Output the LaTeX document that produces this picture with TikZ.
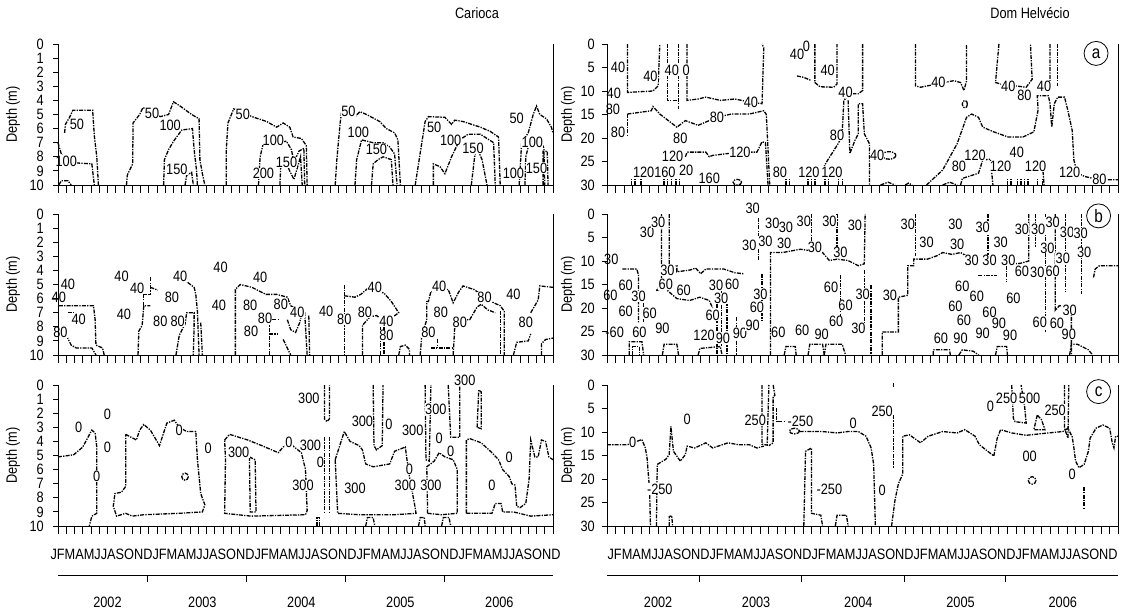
\documentclass[tikz,border=0pt]{standalone}
\usepackage{fontspec}
\setmainfont[FakeStretch=0.85]{Liberation Sans}
\usetikzlibrary{positioning}

\newcommand\labfont{\fontsize{15}{17}\selectfont}
\newcommand\monthrow{JFMAMJJASOND}

\tikzset{
  axis/.style={line width=0.9pt},
  contour/.style={line width=1.3pt,dash pattern=on 4pt off 1.2pt on 1.3pt off 1.2pt},
  clab/.style={font=\labfont,inner sep=0.3pt,fill=white},
  tlab/.style={font=\labfont,anchor=east,inner sep=0pt},
  title/.style={font=\labfont},
  panellab/.style={draw,circle,line width=0.8pt,minimum size=24pt,inner sep=0pt,font=\fontsize{18}{18}\selectfont},
}

% depth axis, bottom month ticks and right spine
% #1 max depth, #2 step, #3 offset of "Depth (m)", #4 offset of the numbers
\newcommand\depthaxes[4]{%
  \draw[axis] (0,0) -- (0,#1) -- (60,#1) -- (60,0);
  \foreach \d in {0,#2,...,#1}{
    \draw[axis] (0,\d) -- ++(-5pt,0);
    \node[tlab] at ([xshift=-#4]0,\d) {\d};
  }
  \foreach \m in {0,...,60} \draw[axis] (\m,#1) -- ++(0,-8pt);
  \node[rotate=90,font=\labfont] at ([xshift=-#3]0,#1/2) {Depth (m)};
}

% months and years under the lowest panel
\newcommand\timeaxis[1]{%
  \node[font=\labfont,inner sep=0pt,yshift=-28pt] at (30,#1) {\monthrow\monthrow\monthrow\monthrow\monthrow};
  \draw[axis] ([yshift=-49pt]0,#1) -- ([yshift=-49pt]60,#1);
  \foreach \t in {10.8,22.8,34.9,46.8}
    \draw[axis] ([yshift=-49pt]\t,#1) -- ++(0,-7pt);
  \foreach \yr/\c in {2002/6,2003/17.5,2004/29.5,2005/41.5,2006/53.5}
    \node[font=\labfont] at ([yshift=-76pt]\c,#1) {\yr};
}

\begin{document}
\begin{tikzpicture}[x=1pt,y=-1pt]
\useasboundingbox (0,0) rectangle (1128,614);

\node[title] (carioca) at (477,13) {Carioca};
\node[title] (domhelvecio) at (1030,13) {Dom Helvécio};

%%%%%%%%%%%%%%%% Carioca (a)
\begin{scope}[shift={(58,44)},x=8.25pt,y=-14.1pt]
  \draw[contour] (0.8,6.3) -- (0.9,5.7) -- (1.4,5.2) -- (1.8,4.7) -- (4.2,4.7) -- (4.4,6.5) -- (4.7,8) -- (4.9,10);
  \draw[contour] (0,7) -- (0.4,7.8) -- (1.2,8.4) -- (4.1,8.5) -- (4.3,9.5) -- (4.4,10);
  \draw[contour] (0.1,10) -- (0.4,9.7) -- (1.2,9.7) -- (1.6,10);
  \draw[contour] (8.3,10) -- (8.4,9.3) -- (9.05,8.5) -- (9.1,5.6) -- (9.9,5.0) -- (10.3,4.5) -- (12.4,5.15) -- (13.4,5.0) -- (14.0,4.1) -- (14.8,4.4) -- (16.2,5.0) -- (17.1,5.3) -- (17.2,8.2) -- (17.5,9.2) -- (17.8,10);
  \draw[contour] (12.8,10) -- (12.9,8.2) -- (13.4,7.5) -- (14.0,6.9) -- (15.0,6.1) -- (16.3,6.0) -- (16.5,7.5) -- (16.8,9.0) -- (16.9,10);
  \draw[contour] (15.4,10) -- (15.6,9.3) -- (16.2,9.1) -- (16.4,10);
  \draw[contour] (20.4,10) -- (20.4,7.5) -- (20.6,5.6) -- (21.3,4.6) -- (23.5,5.15) -- (25.3,5.5) -- (26.5,5.9) -- (27.3,5.6) -- (28.1,5.9) -- (28.5,6.6) -- (29.5,6.7) -- (30.1,7.2) -- (30.2,10);
  \draw[contour] (24.3,10) -- (24.5,8.0) -- (24.9,7.0) -- (27.7,6.9) -- (28.3,7.5) -- (28.6,8.4) -- (29.2,7.6) -- (29.8,7.4) -- (29.9,10);
  \draw[contour] (26.9,10) -- (27.0,8.6) -- (27.6,8.1) -- (28.0,8.9) -- (28.6,9.6) -- (29.1,8.6) -- (29.4,8.0) -- (29.6,10);
  \draw[contour] (33.6,10) -- (33.8,8.2) -- (34.2,5.6) -- (34.4,4.7) -- (36.0,5.15) -- (36.6,4.8) -- (37.4,5.0) -- (39.0,5.5) -- (39.8,6.0) -- (40.8,6.3) -- (41.2,6.8) -- (41.5,10);
  \draw[contour] (36.0,10) -- (36.2,8.2) -- (36.8,6.8) -- (38.2,7.0) -- (39.4,7.0) -- (40.2,7.3) -- (40.8,7.8) -- (41.1,10);
  \draw[contour] (38.0,10) -- (38.2,8.5) -- (38.8,8.2) -- (39.4,8.0) -- (40.4,8.2) -- (40.6,10);
  \draw[contour] (43.3,10) -- (44.1,7.0) -- (44.5,5.5) -- (44.9,5.15) -- (46.9,5.2) -- (47.7,5.7) -- (48.1,5.4) -- (49.1,5.5) -- (51.2,5.9) -- (52.4,6.2) -- (53.4,6.6) -- (53.6,10);
  \draw[contour] (45.5,10) -- (45.5,8.5) -- (46.3,8.7) -- (46.9,9.2) -- (47.7,8.0) -- (48.7,6.8) -- (49.7,6.4) -- (51.2,6.4) -- (52.8,7.0) -- (53.0,10);
  \draw[contour] (50.1,10) -- (50.5,8.0) -- (50.8,7.4) -- (51.4,8.2) -- (52.0,10);
  \draw[contour] (55.9,10) -- (56.2,7.0) -- (57.0,6.3) -- (57.6,5.0) -- (58.0,4.4) -- (58.4,5.0) -- (59.2,5.3) -- (59.8,5.9) -- (60,6.3);
  \draw[contour] (56.6,10) -- (56.7,8.0) -- (57.0,7.3) -- (58.6,7.0) -- (58.9,7.4) -- (59.0,10);
  \draw[contour] (58.8,10) -- (58.8,7.6) -- (59.3,7.6) -- (59.4,10);
  \foreach \x/\y/\v in {2.3/5.7/50, 1.0/8.3/100, 11.4/4.9/50, 13.6/5.8/100, 14.4/8.9/150,
      22.4/5.0/50, 26.1/6.8/100, 27.7/8.4/150, 24.9/9.2/200, 35.2/4.8/50, 36.4/6.3/100,
      38.6/7.5/150, 45.6/5.9/50, 47.6/6.8/100, 50.3/7.4/150, 55.6/5.3/50, 57.5/7.0/100,
      55.2/9.2/100, 58.0/8.8/150}
    \node[clab] at (\x,\y) {\v};
  \depthaxes{10}{1}{45pt}{14pt}
\end{scope}

%%%%%%%%%%%%%%%% Carioca (b)
\begin{scope}[shift={(58,214)},x=8.25pt,y=-14.1pt]
  \draw[contour] (0.1,6.5) -- (4.3,6.5) -- (4.5,7.5) -- (4.6,9.3) -- (5.4,9.5) -- (5.6,10);
  \draw[contour] (1.0,8.6) -- (1.6,9.3) -- (2.2,9.5) -- (4.1,9.5) -- (4.6,10);
  \draw[contour] (1.2,7.0) -- (2.0,7.0);
  \draw[contour] (9.7,10) -- (9.8,8.3) -- (10.2,7.9) -- (10.4,6.5) -- (11.2,6.5);
  \draw[contour] (10.4,6.5) -- (10.4,5.7) -- (11.2,5.7) -- (11.2,4.5);
  \draw[contour] (11.2,5.2) -- (12.1,5.4);
  \draw[contour] (14.9,4.6) -- (15.6,4.8) -- (16.5,5.2) -- (16.7,5.7) -- (16.9,6.9) -- (17.1,10);
  \draw[contour] (17.3,7.7) -- (17.5,10);
  \draw[contour] (14.3,10) -- (14.7,8.6) -- (15.4,7.8) -- (15.6,7.0) -- (16.5,7.0) -- (16.5,7.9) -- (16.4,10);
  \draw[contour] (21.5,10) -- (21.5,5.35) -- (22.1,5.0) -- (23.5,5.2) -- (25.2,5.7) -- (26.5,5.7) -- (27.8,5.9) -- (28.2,6.5) -- (29.3,6.9) -- (29.9,7.0) -- (30.2,10);
  \draw[contour] (30.4,7.2) -- (30.5,10);
  \draw[contour] (27.8,7.5) -- (28.2,8.2) -- (28.8,8.4) -- (29.3,7.7) -- (29.5,7.2);
  \draw[contour] (25.6,10) -- (25.6,7.5) -- (26.7,7.5);
  \draw[contour] (25.6,8.5) -- (26.7,8.5);
  \draw[contour] (27.3,8.9) -- (28.2,10);
  \draw[contour] (34.7,5.0) -- (34.7,10);
  \draw[contour] (34.7,5.8) -- (36.0,5.9) -- (36.7,5.7) -- (37.5,5.3) -- (39.5,5.6) -- (40.4,6.2) -- (41.3,7.0) -- (40.6,7.3) -- (39.8,7.6);
  \draw[contour] (39.1,7.5) -- (39.1,10);
  \draw[contour] (39.5,8.0) -- (39.5,10);
  \draw[contour] (36.9,10) -- (36.9,7.9) -- (37.8,7.3) -- (38.6,7.2) -- (39.3,7.5);
  \draw[contour] (41.3,10) -- (41.5,9.4) -- (42.1,9.3) -- (42.6,9.6) -- (42.6,10);
  \draw[contour] (43.9,10) -- (44.1,8.6) -- (44.7,7.5) -- (44.7,6.2) -- (44.9,6.2) -- (45.2,5.5) -- (47.3,5.35) -- (47.9,6.3) -- (48.6,5.5) -- (49.1,5.1) -- (50.4,5.35) -- (52.8,6.3) -- (53.6,6.5) -- (54.1,6.9) -- (54.1,10);
  \draw[contour] (53.6,6.9) -- (53.6,10);
  \draw[contour] (47.9,10) -- (48.1,7.9) -- (49.1,7.5) -- (49.9,7.5) -- (50.8,6.6) -- (51.3,6.4) -- (52.1,6.8) -- (53.0,7.0);
  \draw[contour] (45.2,9.5) -- (47.9,9.5);
  \draw[contour] (46.0,8.9) -- (46.0,9.5);
  \draw[contour] (55.2,10) -- (55.6,9.1) -- (57.0,9.0) -- (57.3,8.5);
  \draw[contour] (57.3,7.0) -- (58.2,6.1) -- (58.4,5.1) -- (60,5.2);
  \draw[contour] (58.6,10) -- (58.6,9.2) -- (59.1,8.9) -- (60,8.8);
  \foreach \x/\y/\v in {1.2/5.0/40, 0.1/5.9/40, 2.5/7.5/40, 0.3/8.4/80,
      7.7/4.4/40, 9.6/5.3/40, 13.8/5.9/80, 14.8/4.4/40, 8.0/7.1/40, 12.4/7.6/80, 14.5/7.6/80,
      19.7/3.8/40, 24.5/4.5/40, 19.5/6.5/40, 23.3/6.5/80, 25.1/7.4/80, 27.0/6.4/80, 29.0/7.0/40, 23.4/8.3/80,
      32.5/6.9/40, 34.7/7.5/80, 38.4/5.2/40, 37.2/7.0/80, 39.8/7.6/40, 39.8/8.6/80,
      46.2/5.1/40, 51.7/5.9/80, 55.2/5.7/40, 46.4/7.0/80, 48.7/7.7/80, 44.9/8.4/80, 56.7/7.7/80}
    \node[clab] at (\x,\y) {\v};
  \depthaxes{10}{1}{45pt}{14pt}
\end{scope}

%%%%%%%%%%%%%%%% Carioca (c)
\begin{scope}[shift={(58,385)},x=8.25pt,y=-14.1pt]
  \draw[contour] (0,5.1) -- (1.9,4.95) -- (3.0,4.4) -- (4.1,3.2) -- (4.5,3.4) -- (4.7,4.4) -- (4.7,9.1) -- (4.1,9.3) -- (3.8,10);
  \draw[contour] (8.2,3.5) -- (9.5,3.9) -- (9.9,3.2) -- (10.4,2.8) -- (11.2,3.2) -- (11.9,3.9) -- (12.3,4.3) -- (12.8,3.4) -- (13.2,2.7) -- (14.1,2.5) -- (14.7,3.0) -- (15.6,3.3) -- (16.7,3.3) -- (16.9,5.3) -- (17.3,7.7) -- (17.8,8.5) -- (17.5,9.0) -- (14.7,9.1) -- (10.4,9.2) -- (9.0,9.3) -- (8.2,9.1) -- (7.1,9.3) -- (6.7,8.6) -- (6.9,7.7) -- (7.7,7.6) -- (8.2,7.2) -- cycle;
  \draw[contour] (15.4,6.5) ellipse [x radius=0.4,y radius=0.25];
  \draw[contour] (20.2,3.9) -- (20.8,3.5) -- (23.0,3.9) -- (24.7,4.3) -- (26.7,4.8) -- (27.3,4.4) -- (28.0,4.1) -- (29.5,4.8) -- (30.0,6.0) -- (30.2,8.9) -- (30.0,9.2) -- (23.4,9.3) -- (20.2,9.1) -- (20.3,5.3) -- cycle;
  \draw[contour] (23.2,5.1) -- (23.3,9.0) -- (24.0,9.0) -- (23.9,5.3) -- cycle;
  \draw[contour] (32.3,0) -- (32.3,2.4) -- (32.6,2.6) -- (32.9,2.4) -- (32.9,0);
  \draw[contour] (32.3,3.7) -- (32.3,9.1);
  \draw[contour] (32.9,3.7) -- (32.9,9.1);
  \draw[contour] (31.4,10) -- (31.4,9.4) -- (31.7,9.4) -- (31.7,10);
  \draw[contour] (33.6,5.3) -- (34.7,3.3) -- (35.4,4.0) -- (36.5,4.3) -- (36.9,4.6) -- (37.3,5.6) -- (38.2,5.8) -- (40.2,5.6) -- (40.8,4.7) -- (42.1,4.4) -- (42.3,5.3) -- (42.6,6.5) -- (43.2,8.4) -- (43.4,9.1) -- (40.8,9.2) -- (36.5,9.2) -- (33.9,9.1) -- cycle;
  \draw[contour] (38.2,0) -- (38.3,4.3) -- (38.6,4.6) -- (39.3,4.3) -- (39.4,0);
  \draw[contour] (44.5,0) -- (44.6,5.3) -- (45.0,5.4) -- (45.2,0);
  \draw[contour] (47.3,0) -- (47.6,3.7) -- (48.7,3.7) -- (48.7,0);
  \draw[contour] (50.8,3.0) -- (51.0,0.35) -- (51.3,0.5) -- (51.3,3.1) -- cycle;
  \draw[contour] (44.8,9.1) -- (44.7,5.8) -- (45.6,5.4) -- (46.2,4.8) -- (46.9,5.1) -- (47.9,5.3) -- (48.4,6.0) -- (48.4,9.1) -- (46.5,9.2) -- cycle;
  \draw[contour] (49.5,9.1) -- (49.5,3.9) -- (49.9,3.8) -- (51.3,4.1) -- (52.6,4.8) -- (53.4,5.3) -- (53.9,6.0) -- (54.7,6.5) -- (55.0,7.0) -- (55.4,7.1) -- (55.6,8.6) -- (56.0,8.7) -- (56.7,8.4) -- (57.1,6.7) -- (57.3,3.9) -- (57.8,5.1) -- (58.2,5.1) -- (58.6,3.9) -- (59.1,4.0) -- (59.5,5.1) -- (60,5.3);
  \draw[contour] (49.5,9.1) -- (52.6,9.1) -- (53.0,8.4) -- (53.7,8.4) -- (53.9,9.0) -- (55.2,9.0) -- (57.3,9.3) -- (60,9.2);
  \draw[contour] (37.3,10) -- (37.5,9.4) -- (38.2,9.4) -- (38.4,10);
  \draw[contour] (43.7,10) -- (43.9,9.4) -- (44.4,9.4) -- (44.5,10);
  \draw[contour] (46.5,10) -- (46.7,9.4) -- (47.4,9.4) -- (47.6,10);
  \foreach \x/\y/\v in {2.5/3.0/0, 6.0/2.1/0, 6.0/4.4/0, 4.7/6.5/0, 14.7/3.2/0, 18.2/4.5/0,
      21.9/4.8/300, 28.0/4.1/0, 29.7/7.1/300, 30.6/4.3/300, 31.8/5.5/0, 30.4/0.95/300,
      36.0/7.3/300, 36.9/2.6/300, 40.1/2.8/0, 43.0/3.2/300, 42.6/6.0/0, 42.1/7.1/300,
      45.2/7.1/300, 45.8/1.7/300, 46.2/3.8/0, 47.6/4.7/0, 49.3/-0.35/300, 54.7/5.1/0, 52.6/7.1/0}
    \node[clab] at (\x,\y) {\v};
  \depthaxes{10}{1}{45pt}{14pt}
  \timeaxis{10}
\end{scope}

%%%%%%%%%%%%%%%% Dom Helvecio (a)
\begin{scope}[shift={(607,44)},x=8.52pt,y=-4.7pt]
  \draw[contour] (2.4,0) -- (2.4,10.3) -- (5.4,10.0) -- (6.0,8.9) -- (6.2,0);
  \draw[contour] (2.4,14.9) -- (5.2,14.2) -- (5.4,13.3) -- (6.2,14.9) -- (8.2,17.7) -- (9.2,16.3) -- (10.7,17.3) -- (12.9,15.6) -- (14.6,14.9) -- (16.7,14.9) -- (18.4,14.2) -- (18.7,15) -- (19.1,30);
  \draw[contour] (2.4,14.9) -- (2.4,19.8);
  \draw[contour] (7.1,0) -- (7.1,12.0) -- (8.2,12.0);
  \draw[contour] (8.4,0) -- (8.4,13.8);
  \draw[contour] (9.4,0) -- (9.4,12.0) -- (10.7,11.7) -- (11.6,11.3) -- (13.3,12.0) -- (15.0,11.7) -- (16.9,12.4) -- (18.2,12.7) -- (18.4,0.8) -- (18.2,0);
  \draw[contour] (9.2,24.0) -- (9.4,23.0) -- (11.6,23.0) -- (12.0,24.0) -- (12.4,23.7) -- (15.6,23.0) -- (17.6,23.0) -- (18.2,20.8) -- (18.6,21) -- (18.9,30);
  \foreach \m in {2.9,3.3,4.0,6.7,7.1,7.6,8.1,8.5,21.0,21.4,23.6,24.0,24.4,25.6,26.0,27.2,27.6,47.0,47.4,48.2,48.6,49.0,49.4,50.5,51.1}
    \draw[contour] (\m,30) -- (\m,28.4);
  \draw[contour] (15.3,29.4) ellipse [x radius=0.5,y radius=0.6];
  \draw[contour] (24.4,0) -- (24.4,8.2) -- (25.0,9.1) -- (26.6,9.2) -- (27.0,8.5) -- (27.0,0);
  \draw[contour] (22.3,6.8) -- (23.1,7.1) -- (24.0,7.8);
  \draw[contour] (30.0,0) -- (30.0,9.9) -- (29.5,10.6) -- (28.7,10.6) -- (28.3,11.0) -- (27.8,12.0) -- (27.6,19.1) -- (27.2,21.0) -- (26.5,23.0) -- (25.8,25.0) -- (25.2,27.0);
  \draw[contour] (28.3,12.0) -- (28.5,23.3) -- (29.1,20.5) -- (29.5,19.1) -- (29.5,12.7) -- (30.0,12.7) -- (30.2,19.1) -- (30.8,21.2) -- (30.8,30);
  \draw[contour] (33.1,23.7) ellipse [x radius=0.8,y radius=0.8];
  \draw[contour] (36.2,0) -- (36.2,8.9) -- (36.8,9.2) -- (40.7,7.8) -- (41.5,8.2) -- (41.9,9.9) -- (42.2,7.8) -- (42.2,0);
  \draw[contour] (46.0,0) -- (45.6,8.2) -- (46.2,8.5) -- (49.2,9.2) -- (49.9,7.5) -- (49.7,0);
  \draw[contour] (52.0,0) -- (52.0,9.2) -- (51.3,9.6);
  \draw[contour] (52.9,0) -- (52.9,8.9);
  \draw[contour] (42.0,12.8) ellipse [x radius=0.3,y radius=0.8];
  \draw[contour] (37.5,30) -- (39.4,26.8) -- (41.1,21.2) -- (42.2,15.6) -- (42.8,14.9) -- (43.6,15.6) -- (44.1,17.7) -- (45.4,18.7) -- (47.1,19.8) -- (48.8,19.8) -- (50.1,18.7) -- (50.6,14.0) -- (50.5,11.0) -- (51.8,11.0) -- (52.0,12.7) -- (52.2,17.7) -- (52.5,12.7) -- (52.9,11.3) -- (53.7,11.3) -- (54.1,14.2) -- (54.6,18.4) -- (54.8,24.7) -- (55.2,27.5) -- (56.1,28.2) -- (57.8,28.9) -- (60,28.9);
  \draw[contour] (41.5,30) -- (41.7,28.6) -- (43.6,27.5) -- (44.1,24.7) -- (45.0,24.5) -- (45.3,30);
  \draw[contour] (32.1,30) -- (33.0,29.4) -- (33.8,30);
  \draw[contour] (35.0,30) -- (35.4,29.6) -- (35.8,30);
  \draw[contour] (39.4,30) -- (40.2,29.4) -- (41.1,30);
  \draw[contour] (51.1,25.4) -- (51.3,30);
  \foreach \x/\y/\v in {1.3/5.0/40, 0.8/10.6/40, 0.7/13.8/80, 1.3/18.7/80, 5.1/6.8/40, 7.6/5.7/40, 9.3/5.7/0,
      12.9/15.6/80, 16.9/12.4/40, 8.6/20.1/80, 7.7/24.0/120, 15.6/23.0/120, 4.3/27.2/120, 6.8/27.2/160,
      9.3/26.8/20, 12.0/28.6/160, 22.3/2.2/40, 23.4/0.4/0, 25.9/5.7/40, 28.0/10.3/40, 27.0/19.4/80,
      31.7/23.7/40, 20.3/27.2/80, 23.7/27.2/120, 26.4/27.2/120, 38.9/8.2/40, 47.1/9.1/40, 51.3/9.1/40,
      49.0/11.0/80, 43.2/23.7/120, 41.3/26.1/80, 46.2/26.1/120, 48.1/23.0/40, 50.3/26.1/120,
      54.3/27.2/120, 57.8/28.9/80}
    \node[clab] at (\x,\y) {\v};
  \node[panellab] (pa) at (57.4,2) {a};
  \depthaxes{30}{5}{39pt}{12pt}
\end{scope}

%%%%%%%%%%%%%%%% Dom Helvecio (b)
\begin{scope}[shift={(607,214)},x=8.52pt,y=-4.7pt]
  \draw[contour] (1.8,11.7) -- (3.5,11.7) -- (3.7,13) -- (3.7,23.3);
  \draw[contour] (4.3,17.3) -- (4.3,23.3);
  \draw[contour] (6.4,0) -- (6.4,14.9) -- (5.8,16.3);
  \draw[contour] (7.3,0) -- (7.3,11.0) -- (8.2,11.0) -- (8.2,12.3) -- (9.8,11.9) -- (10.4,11.5) -- (11.0,12.7) -- (11.6,11.7) -- (13.7,11.7) -- (15.0,12.5) -- (16.0,12.7);
  \draw[contour] (5.8,16.3) -- (6.7,15.6) -- (7.3,16.6) -- (8.2,18.0) -- (9.7,18.4) -- (10.9,17.7) -- (12.0,18.4) -- (12.4,20.0);
  \draw[contour] (12.9,17.5) -- (12.9,30);
  \draw[contour] (13.4,16) -- (13.4,28);
  \draw[contour] (14.1,17) -- (14.1,30);
  \draw[contour] (15.2,22) -- (15.2,30);
  \draw[contour] (18.2,12.7) -- (18.2,22.6);
  \draw[contour] (17.8,0.8) -- (17.8,9.9);
  \draw[contour] (19.2,30) -- (19.2,8.2) -- (20.6,8.2) -- (21.8,7.8) -- (22.7,7.5) -- (25.3,8.2) -- (26.1,9.9) -- (27.0,9.6) -- (28.3,9.9) -- (29.5,11.0) -- (30.2,10.6) -- (30.3,0);
  \draw[contour] (24.0,0) -- (24.0,6.5);
  \draw[contour] (27.0,0) -- (27.0,8.0);
  \draw[contour] (27.4,13) -- (27.4,22);
  \draw[contour] (30.2,12) -- (30.2,24);
  \draw[contour] (31.0,15.2) -- (31.0,30);
  \draw[contour] (32.3,30) -- (32.3,25.1) -- (34.2,25.1) -- (34.2,17.7) -- (35.3,17.3) -- (35.3,11.0) -- (36.0,11.0) -- (36.0,9.6) -- (37.6,9.6) -- (38.7,8.9) -- (39.4,8.2) -- (40.5,8.6) -- (41.5,8.2) -- (42.8,9.6) -- (43.3,10.5);
  \draw[contour] (36.2,0) -- (36.2,9.0);
  \draw[contour] (44.7,0) -- (44.7,10.6);
  \draw[contour] (43.6,13.1) -- (45.8,13.1);
  \draw[contour] (46.9,11.0) -- (46.9,14.5);
  \draw[contour] (49.5,0) -- (49.5,10) -- (48.5,10.5) -- (47.7,10.6);
  \draw[contour] (50.3,0) -- (50.3,7);
  \draw[contour] (51.5,0) -- (51.5,25);
  \draw[contour] (52.6,0) -- (52.6,20.5) -- (53.1,19.5) -- (54.1,19.6) -- (54.5,20.5) -- (54.5,30);
  \draw[contour] (53.8,0) -- (53.8,16.5);
  \draw[contour] (55.7,0) -- (55.7,17);
  \draw[contour] (57.1,13.5) -- (57.3,11.7) -- (57.8,11.0) -- (60,11.0);
  \draw[contour] (2.6,30) -- (2.6,27.2) -- (4.1,27.2) -- (4.3,30);
  \draw[contour] (3.0,30) -- (3.0,28.2) -- (3.8,28.2) -- (3.8,30);
  \draw[contour] (6.5,30) -- (6.7,27.7) -- (8.2,27.7) -- (8.4,30);
  \draw[contour] (10.7,30) -- (10.9,28.6) -- (13.3,28.2) -- (13.5,30);
  \draw[contour] (20.8,30) -- (21.0,28.2) -- (22.1,28.2) -- (22.2,30);
  \draw[contour] (23.6,30) -- (23.8,27.7) -- (25.3,27.7) -- (25.5,30);
  \draw[contour] (25.5,30) -- (25.7,27.7) -- (27.6,27.7) -- (28.0,30);
  \draw[contour] (38.3,30) -- (38.3,28.9) -- (40.2,28.9) -- (40.3,30);
  \draw[contour] (41.3,30) -- (41.7,28.9) -- (43.0,29.2) -- (43.6,30);
  \draw[contour] (45.6,30) -- (45.8,28.2) -- (46.9,28.2) -- (47.0,30);
  \draw[contour] (54.3,30) -- (54.5,27.7) -- (55.2,27.7) -- (56.5,28.9) -- (57.0,30);
  \foreach \x/\y/\v in {0.5/9.6/30, 2.2/15.2/60, 0.4/17.4/60, 3.7/17.5/30, 2.2/20.8/60, 5.0/21.2/60,
      0.9/25.1/-60, 3.8/25.1/60, 6.5/24.4/90, 4.7/4.0/30, 6.0/1.7/30, 7.1/12.0/30, 6.9/14.9/60,
      9.0/16.3/60, 11.4/25.8/120, 12.8/15.2/30, 14.7/15.0/60, 13.4/18.0/30, 12.4/21.5/60,
      13.6/26.4/90, 15.6/25.3/90, 17.1/23.7/90, 17.6/19.8/60, 18.0/17.0/30, 17.1/-1.3/30,
      16.7/6.6/30, 18.6/5.8/30, 19.4/2.0/30, 21.0/2.9/30, 23.1/1.5/30, 26.1/1.5/30, 29.1/2.5/30,
      20.8/6.3/30, 24.4/7.1/30, 27.4/8.2/30, 26.3/15.6/60, 28.0/19.4/60,
      30.0/17.0/30, 33.2/17.3/30, 20.1/25.1/60, 22.9/24.7/60, 26.9/22.9/60, 25.2/25.7/90,
      29.5/24.4/30, 35.3/2.2/30, 37.5/6.1/30, 40.9/2.2/30, 44.1/2.9/30, 41.1/6.4/30,
      42.8/9.9/30, 44.9/9.9/30, 46.2/6.1/30, 47.1/9.9/30, 48.7/3.2/30, 50.6/3.2/30,
      52.3/1.8/30, 54.0/3.9/30, 55.6/4.2/30, 56.0/8.2/30, 51.7/7.2/30, 53.5/9.4/30,
      41.7/15.3/60, 43.4/17.6/60, 40.9/19.6/60, 44.9/20.9/60, 41.9/22.6/60, 47.7/18.0/60,
      48.7/12.2/60, 50.5/12.5/30, 52.3/12.3/60, 50.8/23.0/60, 52.8/23.2/60, 54.3/20.4/30,
      54.2/25.7/90, 39.2/26.5/60, 41.5/26.5/90, 44.1/25.4/90, 46.0/23.3/90, 47.3/25.9/90}
    \node[clab] at (\x,\y) {\v};
  \node[panellab] (pb) at (57.7,0.4) {b};
  \depthaxes{30}{5}{39pt}{12pt}
\end{scope}

%%%%%%%%%%%%%%%% Dom Helvecio (c)
\begin{scope}[shift={(607,385)},x=8.52pt,y=-4.7pt]
  \draw[contour] (0,12.7) -- (2.4,12.7) -- (4.1,11.6) -- (4.5,13.4) -- (4.7,15.5) -- (5.0,22.4) -- (5.1,30);
  \draw[contour] (5.8,30) -- (5.9,16.9) -- (6.9,15.8) -- (7.3,14.8) -- (7.5,8.8) -- (7.8,14.1) -- (8.6,16.2) -- (9.2,14.8) -- (9.4,13.0) -- (10.3,13.4) -- (11.6,12.3) -- (12.4,13.4) -- (14.2,12.3) -- (15.4,12.7) -- (16.7,12.7) -- (17.6,13.4) -- (18.4,13.0);
  \draw[contour] (18.2,0) -- (18.2,12.6) -- (18.8,12.8) -- (19.0,0);
  \draw[contour] (19.5,0) -- (19.7,2.2) -- (19.5,2.5) -- (19.5,12.3) -- (19.0,12.9);
  \draw[contour] (19.9,4.9) -- (19.9,7.8) -- (21.0,7.8);
  \draw[contour] (22.0,9.8) ellipse [x radius=0.6,y radius=0.6];
  \draw[contour] (22.6,9.9) -- (25.3,9.9) -- (27.0,10.2) -- (28.3,9.9) -- (29.5,9.9) -- (30.4,10.9) -- (31.0,13.4) -- (31.3,16.9) -- (31.5,30);
  \draw[contour] (23.1,30) -- (23.3,14.1) -- (24.0,13.4) -- (24.0,27.3) -- (25.1,27.7) -- (25.3,30);
  \draw[contour] (26.8,30) -- (27.0,27.7) -- (28.1,27.7) -- (28.3,30);
  \draw[contour] (7.3,30) -- (7.3,28.0) -- (7.6,27.8) -- (7.7,30);
  \draw[contour] (33.6,6.4) -- (33.6,17.6);
  \draw[line width=1.5pt] (33.6,-0.5) -- (33.6,0.4);
  \draw[contour] (33.4,30) -- (33.8,24.5) -- (34.2,21.0) -- (34.7,19.0) -- (34.7,10.9) -- (35.5,10.6) -- (36.8,12.3) -- (37.7,10.9) -- (39.4,9.9) -- (41.1,10.2) -- (42.0,9.5) -- (43.2,10.9) -- (43.7,12.7) -- (44.9,14.4) -- (45.4,15.1) -- (45.8,11.3) -- (46.2,9.5) -- (47.5,10.2) -- (49.2,10.7) -- (51.8,10.2) -- (53.5,9.9) -- (54.1,9.2) -- (54.6,11.0) -- (54.8,13.4) -- (55.0,16.2) -- (55.4,17.6) -- (56.0,16.9) -- (56.5,14.1) -- (56.7,11.3) -- (57.4,9.2) -- (58.2,8.5) -- (59.0,9.2) -- (59.3,12.3) -- (59.5,13.4) -- (59.7,10.9) -- (60,10.9);
  \draw[contour] (47.5,0) -- (47.7,7.1) -- (47.9,7.8) -- (49.2,8.1) -- (49.0,4.3) -- (48.6,0);
  \draw[contour] (50.5,6.4) -- (50.1,9.5) -- (51.4,9.5) -- (51.0,7.4) -- cycle;
  \draw[contour] (53.7,0) -- (53.7,9.2) -- (54.1,11.3) -- (54.2,0);
  \draw[contour] (49.9,20.3) ellipse [x radius=0.45,y radius=0.8];
  \draw[contour] (56.0,21.7) -- (56.0,26.6);
  \foreach \x/\y/\v in {3.0/12.1/0, 9.4/7.4/0, 17.4/7.6/250, 22.7/7.8/-250, 6.2/22.1/-250, 28.9/8.1/0,
      26.1/22.1/-250, 32.3/22.4/0, 32.3/5.7/250, 45.0/4.6/0, 46.9/2.9/250, 49.6/2.9/500,
      52.6/5.3/250, 49.6/15.1/00, 54.6/19.0/0}
    \node[clab] at (\x,\y) {\v};
  \node[panellab] (pc) at (57.7,1.4) {c};
  \depthaxes{30}{5}{39pt}{12pt}
  \timeaxis{30}
\end{scope}

\end{tikzpicture}
\end{document}
